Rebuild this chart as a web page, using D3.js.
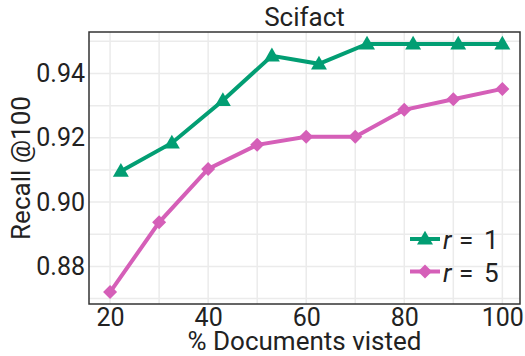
<!DOCTYPE html>
<html>
<head>
<meta charset="utf-8">
<script src="https://cdn.jsdelivr.net/npm/d3@7"></script>
<style>
  body { margin: 0; background: #fff; }
  text { font-family: Roboto, "DejaVu Sans", sans-serif; fill: #222; }
</style>
</head>
<body>
<div id="chart"></div>
<script>
// data
var xR1 = [22.2, 32.6, 43, 53, 62.6, 72.4, 81.8, 91, 100];
var yR1 = [0.9096, 0.9184, 0.9316, 0.9455, 0.9430, 0.9492, 0.9492, 0.9492, 0.9492];
var xR5 = [20, 30, 40, 50, 60, 70, 80, 90, 100];
var yR5 = [0.872, 0.8937, 0.9103, 0.9178, 0.9203, 0.9203, 0.9287, 0.9320, 0.9352];
var xTicks = [20, 40, 60, 80, 100];
var yTicks = [0.88, 0.90, 0.92, 0.94];
var seriesNames = ["1", "5"];
var colors = ["#029e73", "#d55fb8"];

//svg size
var svgWidth = 525;
var svgHeight = 356;
var margin = { top: 32, bottom: 52, right: 5, left: 89 };
var chartWidth = svgWidth - margin.left - margin.right;
var chartHeight = svgHeight - margin.top - margin.bottom;
var fontSize = "26px";

var svg = d3.select("#chart").append("svg")
    .attr("width", svgWidth)
    .attr("height", svgHeight);

var chartGroup = svg.append("g")
    .attr("transform", `translate(${margin.left}, ${margin.top})`);

//scales
var xScale = d3.scaleLinear().domain([15.7, 103.6]).range([0, chartWidth]);
var yScale = d3.scaleLinear().domain([0.8683, 0.9529]).range([chartHeight, 0]);

//grid (major + minor)
var xGrid = d3.range(20, 101, 10);
var yGrid = d3.range(0.87, 0.9531, 0.01);
chartGroup.selectAll(".gx").data(xGrid).enter().append("line")
    .attr("x1", d => xScale(d)).attr("x2", d => xScale(d))
    .attr("y1", 0).attr("y2", chartHeight)
    .attr("stroke", "#ebebeb").attr("stroke-width", 1.5);
chartGroup.selectAll(".gy").data(yGrid).enter().append("line")
    .attr("y1", d => yScale(d)).attr("y2", d => yScale(d))
    .attr("x1", 0).attr("x2", chartWidth)
    .attr("stroke", "#ebebeb").attr("stroke-width", 1.5);

//axes
var xAxis = d3.axisBottom(xScale).tickValues(xTicks).tickSize(0).tickPadding(4).tickFormat(d3.format("d"));
var yAxis = d3.axisLeft(yScale).tickValues(yTicks).tickSize(0).tickPadding(4).tickFormat(d3.format(".2f"));
var gx = chartGroup.append("g").attr("transform", `translate(0, ${chartHeight})`).call(xAxis);
var gy = chartGroup.append("g").call(yAxis);
[gx, gy].forEach(function(g) {
    g.select(".domain").remove();
    g.selectAll("text").style("font-size", "25px").attr("fill", "#222");
});

//frame
chartGroup.append("rect")
    .attr("width", chartWidth).attr("height", chartHeight)
    .attr("fill", "none").attr("stroke", "#333").attr("stroke-width", 1.5);

//lines
var series = [
    { name: seriesNames[0], xs: xR1, ys: yR1, color: colors[0], sym: d3.symbolTriangle, size: 110 },
    { name: seriesNames[1], xs: xR5, ys: yR5, color: colors[1], sym: d3.symbolDiamond2, size: 125 }
];
var line = d3.line().x(d => xScale(d[0])).y(d => yScale(d[1]));

series.forEach(function(s) {
    var pts = s.xs.map((x, i) => [x, s.ys[i]]);
    chartGroup.append("path")
        .attr("d", line(pts))
        .attr("fill", "none").attr("stroke", s.color).attr("stroke-width", 4);
    chartGroup.selectAll(null).data(pts).enter().append("path")
        .attr("d", d3.symbol().type(s.sym).size(s.size))
        .attr("transform", d => `translate(${xScale(d[0])}, ${yScale(d[1]) + (s.sym === d3.symbolTriangle ? 1 : 0)})`)
        .attr("fill", s.color);
});

//legend
var legend = svg.append("g").attr("transform", "translate(410, 239)");
series.forEach(function(s, i) {
    var row = legend.append("g").attr("transform", `translate(0, ${i * 32.5})`);
    row.append("line").attr("x1", 0).attr("x2", 30).attr("y1", 0).attr("y2", 0)
        .attr("stroke", s.color).attr("stroke-width", 4);
    row.append("path").attr("d", d3.symbol().type(s.sym).size(s.size))
        .attr("transform", `translate(15, ${s.sym === d3.symbolTriangle ? 1 : 0})`)
        .attr("fill", s.color);
    var t = row.append("text").attr("y", 10).style("font-size", fontSize);
    t.append("tspan").attr("x", 33).style("font-style", "italic").text("r");
    t.append("tspan").attr("x", 49).text("=");
    t.append("tspan").attr("x", 74).text(s.name);
});

//title and labels
svg.append("text")
    .attr("x", margin.left + chartWidth / 2).attr("y", 26)
    .attr("text-anchor", "middle").style("font-size", fontSize)
    .text("Scifact");
svg.append("text")
    .attr("x", margin.left + chartWidth / 2).attr("y", 350)
    .attr("text-anchor", "middle").style("font-size", fontSize)
    .text("% Documents visted");
svg.append("text")
    .attr("transform", "rotate(-90)")
    .attr("x", -(margin.top + chartHeight / 2)).attr("y", 30)
    .attr("text-anchor", "middle").style("font-size", fontSize)
    .text("Recall @100");
</script>
</body>
</html>
